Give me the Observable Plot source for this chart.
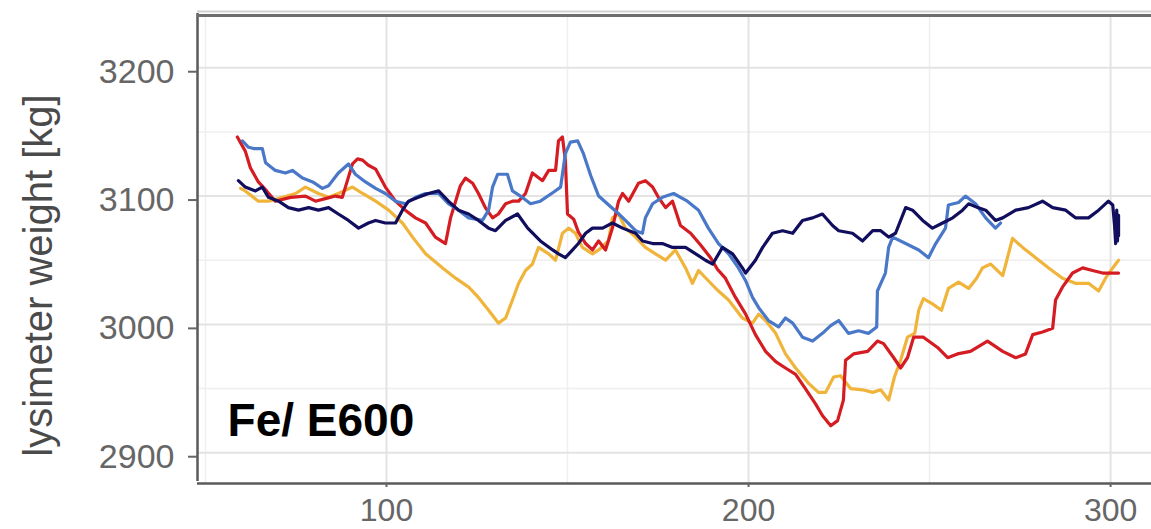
<!DOCTYPE html>
<html>
<head>
<meta charset="utf-8">
<script src="https://cdn.jsdelivr.net/npm/d3@7"></script>
<script src="https://cdn.jsdelivr.net/npm/@observablehq/plot@0.6"></script>
<style>
  html, body { margin: 0; padding: 0; background: #fff; }
  #chart svg { display: block; }
</style>
</head>
<body>
<div id="chart"></div>
<script>
// Lysimeter weight [kg] against day of year, four lysimeters of the Fe / E600 group.
const lysA = [[59.7,3106],[61.0,3104],[64.6,3096],[67.4,3096],[71.3,3099],[74.9,3102],[77.6,3107],[81.2,3102],[84.0,3099],[86.7,3102],[90.6,3107],[93.4,3102],[97.0,3096],[100.6,3089],[104.4,3079],[107.2,3068],[110.8,3055],[115.5,3044],[119.1,3036],[122.7,3029],[125.4,3021],[128.2,3011],[130.9,3001],[132.9,3005],[134.8,3019],[136.5,3032],[138.4,3042],[140.3,3047],[142.0,3060],[144.8,3055],[146.7,3050],[148.6,3071],[150.3,3075],[152.2,3071],[154.1,3060],[156.9,3055],[158.6,3058],[161.3,3065],[162.4,3083],[164.1,3086],[166.0,3075],[168.8,3068],[171.5,3060],[174.3,3055],[177.1,3050],[179.8,3058],[182.6,3044],[184.5,3032],[186.2,3042],[188.9,3034],[191.7,3026],[194.5,3019],[198.3,3005],[201.1,3001],[202.8,3008],[204.7,3003],[207.5,2993],[210.2,2977],[213.0,2966],[216.6,2954],[219.3,2947],[221.3,2947],[223.5,2959],[225.4,2960],[228.2,2950],[231.5,2949],[234.3,2947],[236.5,2949],[238.7,2941],[240.3,2959],[242.0,2972],[243.9,2990],[245.9,2993],[247.0,3011],[248.3,3020],[250.8,3016],[253.3,3011],[255.2,3028],[258.0,3033],[260.8,3028],[263.0,3036],[264.6,3044],[266.9,3047],[270.2,3038],[271.8,3055],[272.9,3067],[275.7,3060],[279.3,3052],[282.9,3044],[286.7,3036],[290.3,3032],[293.9,3032],[296.7,3026],[298.6,3036],[300.6,3044],[302.2,3050]];

const lysB = [[58.8,3146],[61.0,3135],[62.4,3122],[64.6,3111],[66.9,3104],[69.3,3096],[73.5,3099],[77.6,3100],[80.4,3096],[83.1,3098],[85.9,3100],[87.8,3099],[89.2,3112],[90.6,3125],[92.0,3129],[93.4,3128],[95.0,3124],[97.0,3121],[99.7,3107],[102.5,3096],[105.2,3089],[108.0,3083],[110.8,3079],[113.5,3068],[116.3,3063],[117.7,3083],[119.1,3096],[120.4,3108],[121.8,3114],[123.8,3110],[125.4,3102],[127.3,3091],[129.3,3083],[130.9,3086],[132.9,3094],[134.8,3096],[136.5,3096],[138.4,3102],[140.3,3118],[143.1,3112],[144.8,3120],[146.7,3120],[147.5,3143],[148.6,3146],[149.4,3128],[150.0,3086],[151.7,3082],[153.0,3072],[155.0,3063],[156.9,3058],[158.6,3065],[160.5,3058],[162.4,3075],[164.1,3096],[165.2,3102],[166.9,3096],[169.6,3110],[171.5,3112],[173.5,3107],[175.1,3099],[177.1,3091],[179.0,3096],[181.2,3077],[184.0,3071],[186.7,3062],[189.5,3052],[191.4,3043],[193.6,3036],[196.4,3021],[199.2,3008],[201.9,2992],[204.7,2979],[207.5,2971],[210.2,2966],[213.0,2961],[215.7,2950],[218.5,2938],[220.4,2929],[222.7,2921],[224.6,2925],[226.2,2941],[226.8,2972],[229.0,2977],[232.9,2979],[235.6,2987],[237.3,2985],[240.1,2974],[242.0,2966],[243.9,2974],[245.6,2990],[248.3,2990],[252.2,2982],[255.0,2974],[257.7,2977],[261.3,2979],[266.0,2987],[270.2,2979],[273.8,2974],[276.5,2977],[278.5,2992],[281.2,2994],[284.0,2997],[284.8,3019],[286.7,3029],[289.5,3040],[292.3,3044],[295.0,3042],[297.8,3040],[302.2,3040]];

const lysC = [[60.2,3143],[61.9,3138],[63.3,3137],[65.7,3137],[66.6,3126],[69.3,3120],[72.1,3118],[74.0,3120],[76.8,3114],[79.6,3111],[82.3,3106],[84.0,3108],[86.7,3118],[89.5,3125],[91.4,3117],[94.2,3111],[97.0,3106],[99.7,3102],[102.5,3096],[105.2,3094],[108.0,3099],[110.8,3102],[114.4,3102],[117.1,3094],[119.9,3089],[122.7,3083],[126.5,3081],[128.2,3089],[129.3,3107],[130.7,3117],[133.4,3117],[134.8,3104],[137.0,3100],[139.8,3094],[142.5,3096],[146.1,3103],[148.1,3107],[149.4,3133],[150.8,3142],[152.8,3143],[154.4,3133],[156.4,3116],[158.6,3100],[161.0,3094],[163.8,3087],[166.0,3081],[168.8,3073],[170.7,3071],[171.5,3083],[173.5,3094],[176.2,3099],[179.3,3102],[183.1,3096],[186.2,3089],[188.9,3075],[191.7,3063],[194.5,3055],[197.2,3044],[199.2,3034],[201.1,3021],[202.8,3013],[205.5,3003],[208.3,2998],[210.2,3005],[212.2,3001],[214.9,2990],[217.7,2987],[220.4,2993],[222.7,2999],[224.9,3003],[227.6,2993],[230.4,2995],[233.1,2993],[235.4,2998],[235.6,3026],[237.8,3040],[238.7,3060],[239.8,3068],[243.4,3063],[247.0,3058],[249.7,3052],[251.7,3063],[254.4,3075],[255.2,3093],[258.0,3095],[259.9,3100],[262.7,3094],[265.5,3083],[268.2,3075],[269.6,3079]];

const lysD = [[59.1,3112],[61.0,3107],[63.8,3104],[65.7,3107],[67.4,3099],[70.2,3096],[72.9,3091],[75.7,3089],[78.5,3091],[81.2,3089],[84.0,3091],[86.7,3086],[89.5,3081],[92.3,3075],[95.0,3079],[97.0,3081],[99.7,3079],[102.5,3079],[104.4,3089],[106.1,3096],[108.8,3099],[111.6,3102],[114.4,3104],[117.1,3096],[119.9,3089],[122.7,3086],[125.4,3081],[128.2,3075],[130.1,3073],[132.9,3081],[136.2,3086],[139.0,3075],[142.5,3065],[145.9,3058],[147.5,3055],[149.4,3052],[151.4,3058],[153.0,3063],[155.0,3071],[156.9,3075],[159.7,3075],[162.4,3079],[165.2,3075],[168.8,3071],[170.7,3065],[173.5,3063],[176.2,3063],[179.0,3060],[182.6,3060],[185.4,3055],[188.1,3050],[190.1,3047],[192.8,3060],[195.6,3055],[198.3,3044],[199.2,3040],[201.9,3050],[203.9,3060],[206.6,3071],[209.4,3073],[212.2,3071],[214.9,3081],[217.7,3083],[220.4,3086],[223.2,3077],[224.9,3073],[228.7,3071],[231.5,3065],[234.3,3073],[236.5,3073],[238.7,3068],[240.6,3071],[243.4,3091],[245.3,3089],[248.1,3081],[250.8,3075],[253.6,3079],[256.4,3083],[259.1,3089],[260.8,3094],[263.3,3091],[265.5,3089],[268.2,3081],[270.2,3083],[273.8,3089],[277.3,3091],[281.2,3096],[284.0,3091],[287.6,3089],[290.3,3083],[293.9,3083],[296.7,3089],[299.4,3096],[300.6,3093],[301.1,3077],[301.4,3063],[301.7,3089],[301.9,3065],[302.2,3085],[302.2,3069]];

// drawing order: first name is drawn at the bottom
const seriesNames = ["L-A", "L-B", "L-C", "L-D"];
const seriesColors = ["#f0b43a", "#d41c22", "#4a78c8", "#110e5e"];
const seriesValues = [lysA, lysB, lysC, lysD];

const xTicks = [100, 200, 300];
const xMinor = [50, 150, 250];
const yTicks = [2900, 3000, 3100, 3200];
const yMinor = [2950, 3050, 3150];
const xDomain = [47.8, 311.3];
const yDomain = [2876, 3240.7];

const yTitle = "lysimeter weight [kg]";
const panelLabel = {text: "Fe/ E600", day: 56.1, weight: 2913};

const rows = seriesNames.flatMap((name, i) =>
  seriesValues[i].map(([day, weight]) => ({series: name, day, weight}))
);

const chart = Plot.plot({
  width: 1151,
  height: 529,
  marginLeft: 197,
  marginRight: 0,
  marginTop: 15,
  marginBottom: 46,
  style: {fontFamily: "'Liberation Sans', Arial, sans-serif", background: "#fff", overflow: "visible"},
  x: {domain: xDomain, label: null},
  y: {domain: yDomain, label: null},
  color: {type: "categorical", domain: seriesNames, range: seriesColors},
  marks: [
    Plot.gridY(yMinor, {stroke: "#efefef", strokeOpacity: 1, strokeWidth: 1.5}),
    Plot.gridX(xMinor, {stroke: "#efefef", strokeOpacity: 1, strokeWidth: 1.5}),
    Plot.gridY(yTicks, {stroke: "#e3e3e3", strokeOpacity: 1, strokeWidth: 2}),
    Plot.gridX(xTicks, {stroke: "#e3e3e3", strokeOpacity: 1, strokeWidth: 2}),
    Plot.line(rows, {x: "day", y: "weight", z: "series", stroke: "series", strokeWidth: 3.2, strokeLinejoin: "round", strokeLinecap: "round"}),
    // panel border: left, top and bottom edges
    Plot.ruleX([xDomain[0]], {stroke: "#5a5a5a", strokeWidth: 2.5, dy: -2}),
    Plot.ruleY([yDomain[1]], {stroke: "#d2d2d2", strokeWidth: 2, dy: -4}),
    Plot.ruleY([yDomain[1]], {stroke: "#6e6e6e", strokeWidth: 3}),
    Plot.ruleY([yDomain[0]], {stroke: "#5a5a5a", strokeWidth: 2.5}),
    Plot.axisY(yTicks, {tickSize: 9, tickPadding: 14, fontSize: 34, color: "#666", strokeWidth: 2, tickFormat: d3.format("d"), dy: 4, label: null}),
    Plot.axisX(xTicks, {tickSize: 4, tickPadding: 11, fontSize: 32, color: "#666", strokeWidth: 2, tickFormat: d3.format("d"), label: null}),
    Plot.text([yTitle], {frameAnchor: "left", textAnchor: "middle", lineAnchor: "middle", rotate: -90, dx: -158, dy: 26, fontSize: 40, fill: "#4a4a4a"}),
    Plot.text([panelLabel], {x: "day", y: "weight", text: "text", textAnchor: "start", lineAnchor: "bottom", fontSize: 46, fontWeight: "bold", fill: "#000"})
  ]
});

document.getElementById("chart").appendChild(chart);
</script>
</body>
</html>
